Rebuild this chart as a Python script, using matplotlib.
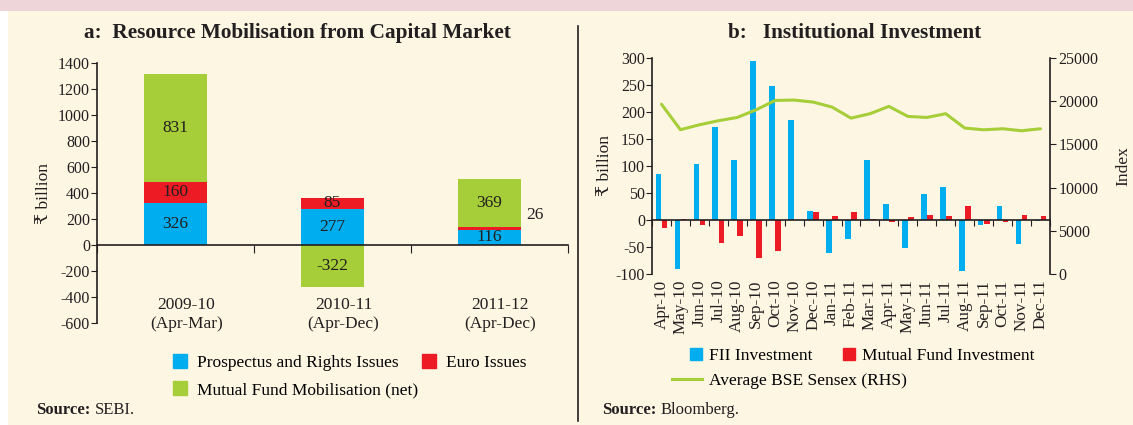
"""Resource mobilisation and institutional investment, two panels side by side."""
import matplotlib
matplotlib.use("Agg")
import matplotlib.pyplot as plt
from matplotlib.lines import Line2D
import numpy as np

plt.rcParams["font.family"] = ["Liberation Serif", "DejaVu Serif", "DejaVu Sans"]
plt.rcParams["axes.unicode_minus"] = False

BLUE = "#00AEEF"
RED = "#ED1C24"
GREEN = "#A6CE39"
CREAM = "#FDF6E3"
PINK = "#EDD5DA"
INK = "#231F20"

# ---- panel a data (₹ billion)
periods = ["2009-10\n(Apr-Mar)", "2010-11\n(Apr-Dec)", "2011-12\n(Apr-Dec)"]
prospectus = [326, 277, 116]
euro = [160, 85, 26]
mutual_fund = [831, -322, 369]

# ---- panel b data
months = ["Apr-10", "May-10", "Jun-10", "Jul-10", "Aug-10", "Sep-10", "Oct-10",
          "Nov-10", "Dec-10", "Jan-11", "Feb-11", "Mar-11", "Apr-11", "May-11",
          "Jun-11", "Jul-11", "Aug-11", "Sep-11", "Oct-11", "Nov-11", "Dec-11"]
fii = [85, -91, 104, 172, 112, 294, 248, 186, 17, -61, -36, 111, 30, -51,
       48, 61, -95, -10, 26, -44, -1]
mf = [-14, 2, -10, -43, -30, -71, -57, 0.5, 15, 7, 15, 1, -4, 6,
      10, 7, 26, -7, -3, 9, 7]
sensex = [19650, 16700, 17270, 17740, 18120, 19010, 20090, 20130, 19900, 19320,
          18040, 18550, 19400, 18240, 18120, 18550, 16890, 16690, 16810, 16580, 16810]

W, H = 1133, 425
fig = plt.figure(figsize=(W / 100, H / 100), dpi=100)
fig.patch.set_facecolor("white")


def fx(px):
    return px / W


def fy(py):
    return 1 - py / H


# background: cream page, pink band on top, divider line
fig.patches.append(plt.Rectangle((fx(8), 0), 1, 1, transform=fig.transFigure,
                                 facecolor=CREAM, edgecolor="none", zorder=-3))
fig.patches.append(plt.Rectangle((0, fy(11)), 1, 11 / H, transform=fig.transFigure,
                                 facecolor=PINK, edgecolor="none", zorder=-2))
fig.add_artist(Line2D([fx(578)] * 2, [fy(26), fy(421)],
                      transform=fig.transFigure, color=INK, lw=1.2))

TICK_FS = 11.5
LEG_FS = 12.5
TITLE_FS = 15.3


def source(xpx, rest):
    t = fig.text(fx(xpx), fy(410), "Source:", fontsize=12, fontweight="bold",
                 va="center", color=INK)
    bb = t.get_window_extent(fig.canvas.get_renderer())
    fig.text(fx(bb.x1 + 4), fy(410), rest, fontsize=12, va="center", color=INK)


def style_axes(a):
    a.set_facecolor("none")
    a.spines["bottom"].set_position(("data", 0))
    for s in ("top", "right"):
        a.spines[s].set_visible(False)
    for s in ("left", "bottom"):
        a.spines[s].set_color(INK)
        a.spines[s].set_linewidth(1.2)
    a.tick_params(axis="y", direction="out", length=4, labelsize=TICK_FS,
                  colors=INK, pad=1)
    a.tick_params(axis="x", direction="out", colors=INK)
    a.set_xticklabels([])


# ================= panel a
ax = fig.add_axes([fx(97), fy(323), fx(568) - fx(97), 260 / H])
x = np.arange(len(periods))
w = 0.4
pos_base = np.array(prospectus) + np.array(euro)
ax.bar(x, prospectus, w, color=BLUE, zorder=2)
ax.bar(x, euro, w, bottom=prospectus, color=RED, zorder=2)
mf_bottom = [b if v >= 0 else 0 for b, v in zip(pos_base, mutual_fund)]
ax.bar(x, mutual_fund, w, bottom=mf_bottom, color=GREEN, zorder=2)

lab_kw = dict(ha="center", va="center", fontsize=12.5, color=INK, zorder=3)
for i in range(len(periods)):
    ax.text(x[i], prospectus[i] / 2, str(prospectus[i]), **lab_kw)
    if euro[i] > 50:
        ax.text(x[i], prospectus[i] + euro[i] / 2, str(euro[i]), **lab_kw)
    else:
        ax.text(x[i] + 0.29, prospectus[i] + euro[i] + 85, str(euro[i]), **lab_kw)
    ax.text(x[i], mf_bottom[i] + mutual_fund[i] / 2, str(mutual_fund[i]), **lab_kw)
    ax.text(x[i] + 0.07, -535, periods[i], ha="center", va="center",
            fontsize=12.5, color=INK, linespacing=1.25)

ax.set_xlim(-0.5, 2.5)
ax.set_ylim(-600, 1400)
ax.set_yticks(np.arange(-600, 1401, 200))
ax.set_xticks(np.arange(-0.5, 2.6, 1))
style_axes(ax)
ax.tick_params(axis="x", length=6)
ax.set_ylabel("₹ billion", fontsize=12.5, color=INK, labelpad=4)

fig.text(fx(297), fy(33), "a:  Resource Mobilisation from Capital Market",
         ha="center", va="center", fontsize=TITLE_FS, fontweight="bold", color=INK)

sq_a = dict(marker="s", linestyle="none", markersize=10)
leg_kw = dict(loc="center left", frameon=False, fontsize=LEG_FS, borderpad=0,
              borderaxespad=0)
la1 = fig.legend([Line2D([], [], color=BLUE, **sq_a), Line2D([], [], color=RED, **sq_a)],
                 ["Prospectus and Rights Issues", "Euro Issues"], ncol=2,
                 bbox_to_anchor=(fx(171), fy(363)), handlelength=1.0,
                 handletextpad=0.47, columnspacing=1.27, **leg_kw)
la2 = fig.legend([Line2D([], [], color=GREEN, **sq_a)],
                 ["Mutual Fund Mobilisation (net)"],
                 bbox_to_anchor=(fx(171), fy(390)), handlelength=1.0,
                 handletextpad=0.47, **leg_kw)
source(36, "SEBI.")

# ================= panel b
bx = fig.add_axes([fx(652), fy(274), fx(1050) - fx(652), 216 / H])
m = np.arange(len(months))
bw = 0.3
bx.bar(m - 0.16, fii, bw, color=BLUE, zorder=2)
bx.bar(m + 0.16, mf, bw, color=RED, zorder=2)
bx.set_xlim(-0.5, len(months) - 0.5)
bx.set_ylim(-100, 300)
bx.set_yticks(np.arange(-100, 301, 50))
bx.set_xticks(np.arange(-0.5, len(months), 1))
style_axes(bx)
bx.tick_params(axis="x", length=4)
bx.set_ylabel("₹ billion", fontsize=12.5, color=INK, labelpad=2)
for i, lab in enumerate(months):
    bx.text(m[i], -0.025, lab, transform=bx.get_xaxis_transform(), rotation=90,
            ha="center", va="top", fontsize=12.3, color=INK)

rx = bx.twinx()
rx.plot(m, sensex, color=GREEN, lw=2.2, solid_joinstyle="round", solid_capstyle="round")
rx.set_ylim(0, 25000)
rx.set_yticks(np.arange(0, 25001, 5000))
for s in ("top", "left", "bottom"):
    rx.spines[s].set_visible(False)
rx.spines["right"].set_color(INK)
rx.spines["right"].set_linewidth(1.2)
rx.tick_params(axis="y", direction="out", length=4, labelsize=TICK_FS, colors=INK, pad=2)
rx.set_ylabel("Index", fontsize=12.5, color=INK, labelpad=12)

fig.text(fx(855), fy(33), "b:   Institutional Investment",
         ha="center", va="center", fontsize=TITLE_FS, fontweight="bold", color=INK)

sq_b = dict(marker="s", linestyle="none", markersize=9)
fig.legend([Line2D([], [], color=BLUE, **sq_b), Line2D([], [], color=RED, **sq_b)],
           ["FII Investment", "Mutual Fund Investment"], ncol=2,
           bbox_to_anchor=(fx(687), fy(356)), handlelength=1.0,
           handletextpad=0.27, columnspacing=1.6, **leg_kw)
fig.legend([Line2D([], [], color=GREEN, lw=2.2)], ["Average BSE Sensex (RHS)"],
           bbox_to_anchor=(fx(672), fy(381)), handlelength=1.72,
           handletextpad=0.4, **leg_kw)
source(602, "Bloomberg.")

fig.savefig("out.png", dpi=100, facecolor=fig.get_facecolor())
